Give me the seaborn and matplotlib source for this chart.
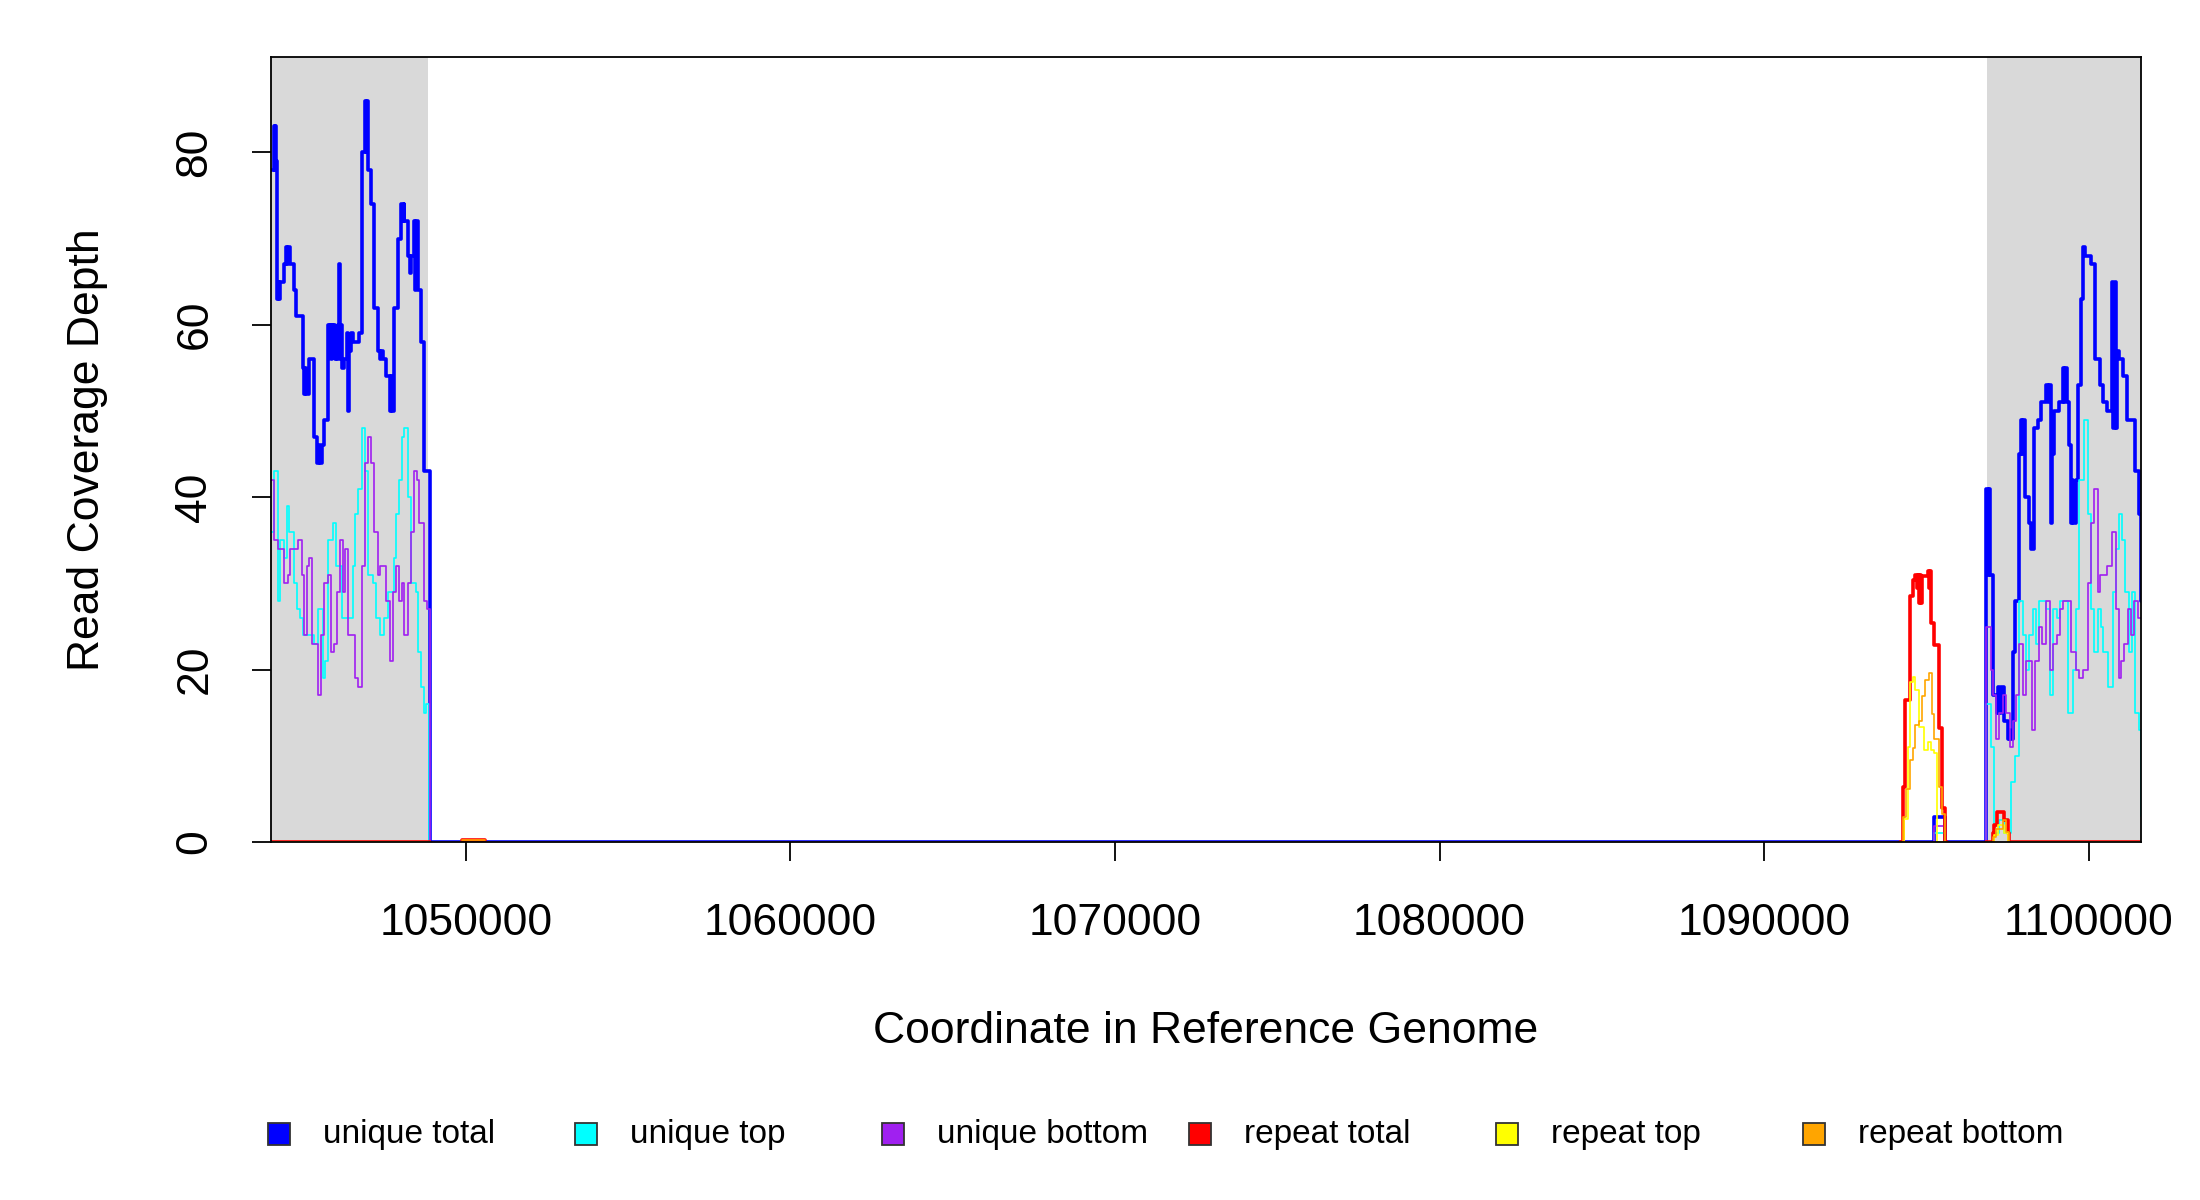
import numpy as np
import pandas as pd
import matplotlib
matplotlib.use("Agg")
import matplotlib.pyplot as plt
from matplotlib.patches import Rectangle
import seaborn as sns

# step coverage: (start coordinate, depth) pairs, NaN breaks a line
unique_total = [
    (1044000, 78), (1044080, 83), (1044110, 78), (1044130, 83), (1044160, 79), (1044180, 63),
    (1044210, 65), (1044240, 63), (1044290, 65), (1044410, 67), (1044460, 69), (1044500, 67),
    (1044530, 69), (1044590, 67), (1044720, 64), (1044770, 61), (1044980, 55), (1045030, 52),
    (1045060, 55), (1045090, 52), (1045160, 56), (1045330, 47), (1045420, 44), (1045470, 46),
    (1045500, 44), (1045560, 46), (1045640, 49), (1045750, 60), (1045780, 57), (1045810, 60),
    (1045840, 56), (1045870, 60), (1045900, 57), (1045930, 60), (1045960, 56), (1045990, 58),
    (1046020, 56), (1046060, 60), (1046100, 67), (1046130, 56), (1046160, 60), (1046200, 55),
    (1046240, 56), (1046330, 59), (1046370, 50), (1046400, 57), (1046450, 59), (1046520, 58),
    (1046720, 59), (1046790, 80), (1046880, 86), (1046930, 80), (1046970, 86), (1047000, 78),
    (1047080, 74), (1047180, 62), (1047290, 57), (1047370, 56), (1047400, 57), (1047440, 56),
    (1047540, 54), (1047650, 50), (1047690, 54), (1047720, 50), (1047800, 62), (1047900, 70),
    (1048000, 74), (1048050, 72), (1048090, 74), (1048110, 72), (1048230, 68), (1048270, 66),
    (1048300, 68), (1048410, 72), (1048450, 64), (1048480, 72), (1048530, 64), (1048620, 58),
    (1048720, 43), (1048910, 0), (1095250, 2.9), (1095560, 0), (1096850, 41), (1096900, 31),
    (1096930, 41), (1096960, 31), (1097060, 17), (1097170, 15), (1097200, 18), (1097250, 15),
    (1097300, 18), (1097400, 14), (1097500, 12), (1097540, 13), (1097580, 12), (1097660, 22),
    (1097740, 28), (1097840, 45), (1097900, 49), (1097940, 45), (1097980, 49), (1098050, 40),
    (1098150, 37), (1098220, 34), (1098330, 48), (1098430, 49), (1098530, 51), (1098690, 53),
    (1098740, 51), (1098780, 53), (1098840, 37), (1098870, 45), (1098940, 50), (1099100, 51),
    (1099200, 55), (1099250, 51), (1099280, 55), (1099320, 51), (1099380, 46), (1099460, 37),
    (1099500, 42), (1099530, 37), (1099610, 42), (1099670, 53), (1099760, 63), (1099840, 69),
    (1099890, 68), (1100070, 67), (1100200, 56), (1100350, 53), (1100450, 51), (1100550, 50),
    (1100720, 65), (1100760, 48), (1100800, 65), (1100840, 48), (1100860, 57), (1100920, 56),
    (1101070, 54), (1101170, 49), (1101440, 43), (1101540, 38), (1101600, 28),
]

unique_top = [
    (1044000, 36), (1044100, 43), (1044200, 28), (1044290, 35), (1044410, 33), (1044490, 39),
    (1044560, 36), (1044700, 30), (1044800, 27), (1044900, 26), (1044980, 24), (1045330, 23),
    (1045440, 27), (1045590, 19), (1045650, 21), (1045750, 35), (1045900, 37), (1046000, 32),
    (1046200, 26), (1046520, 32), (1046590, 38), (1046670, 41), (1046790, 48), (1046900, 43),
    (1047000, 31), (1047130, 30), (1047240, 26), (1047370, 24), (1047470, 26), (1047590, 29),
    (1047800, 33), (1047850, 38), (1047950, 42), (1048030, 47), (1048110, 48), (1048230, 40),
    (1048310, 30), (1048470, 29), (1048540, 22), (1048620, 18), (1048700, 15), (1048780, 16),
    (1048880, 0), (1095250, 1), (1095560, 0), (1096850, 16), (1096990, 11), (1097090, 1),
    (1097250, 2.5), (1097400, 1), (1097600, 7), (1097740, 10), (1097840, 28), (1097970, 24),
    (1098070, 20), (1098170, 24), (1098280, 27), (1098380, 23), (1098460, 28), (1098690, 27),
    (1098810, 17), (1098910, 27), (1099010, 26), (1099120, 28), (1099350, 15), (1099510, 20),
    (1099610, 27), (1099690, 42), (1099760, 42), (1099870, 49), (1099970, 38), (1100070, 27),
    (1100170, 22), (1100280, 27), (1100380, 25), (1100450, 22), (1100590, 18), (1100740, 29),
    (1100840, 34), (1100920, 38), (1101030, 35), (1101130, 29), (1101230, 22), (1101340, 29),
    (1101440, 15), (1101540, 13), (1101600, 3),
]

unique_bottom = [
    (1044000, 42), (1044100, 35), (1044200, 34), (1044410, 30), (1044510, 31), (1044590, 34),
    (1044820, 35), (1044950, 31), (1045030, 24), (1045110, 32), (1045180, 33), (1045260, 23),
    (1045440, 17), (1045540, 24), (1045640, 30), (1045750, 31), (1045850, 22), (1045950, 23),
    (1046030, 29), (1046130, 35), (1046210, 29), (1046280, 34), (1046360, 24), (1046590, 19),
    (1046670, 18), (1046790, 32), (1046880, 44), (1047000, 47), (1047080, 44), (1047160, 36),
    (1047290, 31), (1047370, 32), (1047540, 28), (1047650, 21), (1047750, 29), (1047850, 32),
    (1047950, 28), (1048030, 30), (1048110, 24), (1048230, 30), (1048310, 36), (1048410, 43),
    (1048500, 42), (1048570, 37), (1048700, 28), (1048820, 27), (1048900, 0), (1095250, 1.9),
    (1095560, 0), (1096850, 25), (1096990, 20), (1097060, 17), (1097150, 12), (1097250, 15),
    (1097350, 17), (1097450, 15), (1097580, 11), (1097660, 14), (1097760, 17), (1097860, 23),
    (1097970, 17), (1098070, 21), (1098250, 13), (1098360, 21), (1098460, 25), (1098560, 23),
    (1098690, 28), (1098810, 20), (1098890, 23), (1099010, 24), (1099120, 27), (1099220, 28),
    (1099450, 22), (1099610, 20), (1099710, 19), (1099810, 20), (1099970, 30), (1100070, 37),
    (1100170, 41), (1100280, 29), (1100350, 31), (1100550, 32), (1100720, 36), (1100840, 27),
    (1100920, 19), (1101000, 21), (1101100, 23), (1101200, 27), (1101300, 24), (1101410, 28),
    (1101510, 26), (1101600, 26),
]

repeat_total = [
    (1044000, 0), (1048900, 0), (1048900, np.nan),
    (1049870, 0.2), (1050590, 0.2), (1050590, np.nan),
    (1094200, 0), (1094270, 6.4), (1094350, 16.5), (1094480, 28.5), (1094580, 30.4),
    (1094660, 31), (1094700, 29.5), (1094730, 31), (1094760, 27.7), (1094800, 31),
    (1094840, 27.7), (1094870, 30.8), (1095040, 31.4), (1095080, 29.5), (1095110, 31.4),
    (1095150, 25.4), (1095250, 22.8), (1095380, 13.2), (1095480, 3.9), (1095560, 0),
    (1095650, 0), (1095650, np.nan),
    (1096850, 0), (1097040, 1), (1097090, 2), (1097190, 3.5), (1097400, 2.5), (1097500, 1),
    (1097560, 0), (1101600, 0),
]

repeat_top = [
    (1044000, 0), (1048900, 0), (1048900, np.nan),
    (1094200, 0), (1094320, 2.7), (1094420, 11), (1094500, 18.6), (1094580, 19.2),
    (1094660, 17.6), (1094760, 13.4), (1094940, 10.7), (1095040, 11.6), (1095140, 10.7),
    (1095250, 10.3), (1095320, 0), (1095650, 0), (1095650, np.nan),
    (1096850, 0), (1097090, 0.8), (1097200, 2), (1097400, 1), (1097500, 0), (1101600, 0),
]

repeat_bottom = [
    (1044000, 0), (1048900, 0), (1048900, np.nan),
    (1049870, 0.2), (1050590, 0.2), (1050590, np.nan),
    (1094200, 0), (1094270, 2.9), (1094370, 6.2), (1094500, 9.5), (1094580, 10.9),
    (1094660, 13.6), (1094760, 14), (1094870, 16.9), (1094970, 18.8), (1095070, 19.6),
    (1095180, 14.9), (1095250, 12), (1095380, 6.4), (1095480, 3.3), (1095560, 0),
    (1095650, 0), (1095650, np.nan),
    (1096850, 0), (1097040, 0.6), (1097150, 1.5), (1097350, 2.5), (1097450, 1.2),
    (1097560, 0), (1101600, 0),
]

labels = ["unique total", "unique top", "unique bottom", "repeat total", "repeat top", "repeat bottom"]
colors = ["#0000ff", "#00ffff", "#a020f0", "#ff0000", "#ffff00", "#ffa500"]
widths = [2.6, 1.2, 1.2, 2.6, 1.2, 1.2]
series = [unique_total, unique_top, unique_bottom, repeat_total, repeat_top, repeat_bottom]

shaded = [(1044000, 1048840), (1096860, 1101600)]
x_range = (1044000, 1101600)
y_range = (0, 91)
x_ticks = [1050000, 1060000, 1070000, 1080000, 1090000, 1100000]
y_ticks = [0, 20, 40, 60, 80]

sns.set_theme(style="white")
plt.rcParams["font.family"] = ["Liberation Sans", "DejaVu Sans"]

fig = plt.figure(figsize=(22, 12), dpi=100)
ax = fig.add_axes([0.1232, 0.2983, 0.8498, 0.6538])

for lo, hi in shaded:
    ax.axvspan(lo, hi, color="#d9d9d9", lw=0, zorder=0)

for pts, lab, col, lw in zip(series, labels, colors, widths):
    df = pd.DataFrame(pts, columns=["pos", "depth"])
    df["seg"] = df["depth"].isna().cumsum()
    df = df.dropna()
    sns.lineplot(data=df, x="pos", y="depth", units="seg", estimator=None, sort=False,
                 drawstyle="steps-post", color=col, lw=lw, legend=False, ax=ax)

ax.set_xlim(*x_range)
ax.set_ylim(*y_range)
ax.set_xticks(x_ticks)
ax.set_xticklabels([str(t) for t in x_ticks])
ax.set_yticks(y_ticks)
ax.set_yticklabels([str(t) for t in y_ticks], rotation=90, va="center")
ax.tick_params(axis="both", direction="out", length=14, width=1.3, labelsize=32,
               colors="black", bottom=True, left=True)
ax.tick_params(axis="x", pad=30)
ax.tick_params(axis="y", pad=26)
for sp in ax.spines.values():
    sp.set_color("black")
    sp.set_linewidth(1.3)

ax.set_xlabel("Coordinate in Reference Genome", fontsize=32, color="black")
ax.set_ylabel("Read Coverage Depth", fontsize=32, color="black")
ax.xaxis.set_label_coords(0.5, -0.241)
ax.xaxis.label.set_va("center")
ax.yaxis.set_label_coords(-0.0984, 0.5)
ax.yaxis.label.set_va("center")

# legend in one row, R style
for i, (lab, col) in enumerate(zip(labels, colors)):
    cx = (279 + 307 * i) / 2200
    cy = 1 - 1134 / 1200
    fig.add_artist(Rectangle((cx - 0.005, cy - 0.00917), 0.01, 0.01833, facecolor=col,
                             edgecolor="#333333", lw=1.3, transform=fig.transFigure))
    fig.text(cx + 44 / 2200, cy, lab, fontsize=24, va="center", ha="left", color="black")

fig.savefig("out.png", dpi=100, facecolor="white")
